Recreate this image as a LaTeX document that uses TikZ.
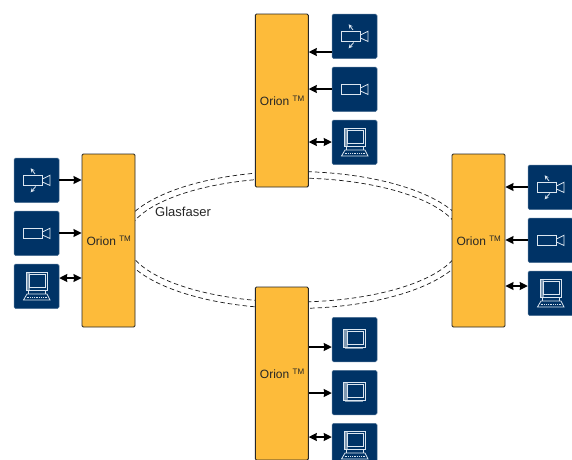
\documentclass[tikz,border=0pt]{standalone}
\usepackage{fontspec}
\setmainfont{Liberation Sans}
\usetikzlibrary{arrows.meta}
\definecolor{navy}{HTML}{003366}
\definecolor{amber}{HTML}{FDBB3A}
\definecolor{iconline}{HTML}{DCE6F0}
\definecolor{iconshade}{HTML}{7F99B2}
\tikzset{
  orion/.style={draw=black!85,line width=0.9pt,fill=amber,rounded corners=1.2pt,minimum width=53pt,minimum height=173pt,inner sep=0pt,font=\fontsize{12}{14}\selectfont,text=black!85},
  icon/.style={fill=navy,draw=navy!70!white,line width=0.5pt,rounded corners=1.5pt,minimum width=45pt,minimum height=44.5pt,inner sep=0pt},
  arr/.style={line width=1.2pt,-{Stealth[length=8pt,width=8pt,inset=0.5pt]}},
  darr/.style={line width=1.2pt,{Stealth[length=8pt,width=8pt,inset=0.5pt]}-{Stealth[length=8pt,width=8pt,inset=0.5pt]}},
  fibre/.style={draw=black!90,line width=0.7pt,dash pattern=on 4.5pt off 3pt},
  glyph/.style={draw=iconline,line width=0.8pt},
  cam/.pic={
    \draw[glyph] (9.5,17) rectangle (28.5,27);
    \draw[glyph] (28.5,21) -- (36,17.2) -- (36,27.5) -- (28.5,24);
  },
  pan/.pic={
    \draw[iconline,line width=0.8pt,-{Stealth[length=4pt,width=4pt]}] (21,16) -- (16.7,10.3);
    \draw[iconline,line width=0.8pt,-{Stealth[length=4pt,width=4pt]}] (21.7,28.5) -- (16.7,34.3);
  },
  mon/.pic={
    \fill[iconshade] (11,12) rectangle (16,30);
    \draw[glyph] (11,12) rectangle (33,30);
    \draw[glyph,fill=navy] (15,14.5) rectangle (31,27.5);
    \draw[iconshade,line width=1pt] (13,31) -- (31,31);
  },
  pc/.pic={
    \fill[iconshade] (12,8) rectangle (16,26);
    \draw[glyph] (12,8) rectangle (33.3,26);
    \draw[glyph,fill=navy] (15.5,10.5) rectangle (31,23.5);
    \draw[glyph] (14,26) -- (14,29.5) (31,26) -- (31,29.5);
    \draw[glyph] (13,30) -- (33,30) -- (36,36) -- (9.5,36) -- cycle;
    \draw[iconline,line width=1.4pt,dash pattern=on 1pt off 0.8pt] (12.5,33.2) -- (33,33.2);
  }
}
\begin{document}
\begin{tikzpicture}[x=1pt,y=-1pt]
\useasboundingbox (0,0) rectangle (572,459);
\clip (0,0) rectangle (572,459);
% fibre ring
\draw[fibre] (294,240) ellipse [x radius=175,y radius=68.5];
\draw[fibre] (294,240) ellipse [x radius=167.5,y radius=62];
\node[anchor=west,inner sep=0pt,font=\fontsize{13}{15}\selectfont,text=black!85] (glas) at (155,211.5) {Glasfaser};
% Orion units
\node[orion] (ol) at (108.5,240.5) {\hspace{1pt}Orion \textsuperscript{TM}};
\node[orion] (ot) at (281.8,100.5) {\hspace{1pt}Orion \textsuperscript{TM}};
\node[orion] (ob) at (281.8,373.5) {\hspace{1pt}Orion \textsuperscript{TM}};
\node[orion] (or) at (478.5,240.5) {\hspace{1pt}Orion \textsuperscript{TM}};
% left icons
\node[icon] (l1) at (36.5,180.3) {};
\node[icon] (l2) at (36.5,233.3) {};
\node[icon] (l3) at (36.5,286.3) {};
\pic at (14,158) {cam}; \pic at (14,158) {pan};
\pic at (14,211) {cam};
\pic at (14,264) {pc};
% top icons
\node[icon] (t1) at (354.5,36.3) {};
\node[icon] (t2) at (354.5,89.3) {};
\node[icon] (t3) at (354.5,142.3) {};
\pic at (332,14) {cam}; \pic at (332,14) {pan};
\pic at (332,67) {cam};
\pic at (332,120) {pc};
% bottom icons
\node[icon] (b1) at (354.5,339.5) {};
\node[icon] (b2) at (354.5,392.5) {};
\node[icon] (b3) at (354.5,445.5) {};
\pic at (332,317) {mon};
\pic at (332,370) {mon};
\pic at (332,423) {pc};
% right icons
\node[icon] (r1) at (550.5,187.3) {};
\node[icon] (r2) at (550.5,240.3) {};
\node[icon] (r3) at (550.5,293.3) {};
\pic at (528,165) {cam}; \pic at (528,165) {pan};
\pic at (528,218) {cam};
\pic at (528,271) {pc};
% connectors
\draw[arr] (l1.east |- 0,180) -- (ol.west |- 0,180);
\draw[arr] (l2.east |- 0,233) -- (ol.west |- 0,233);
\draw[darr] (l3.east |- 0,278) -- (ol.west |- 0,278);
\draw[arr] (t1.west |- 0,52) -- (ot.east |- 0,52);
\draw[arr] (t2.west |- 0,89) -- (ot.east |- 0,89);
\draw[darr] (t3.west |- 0,142) -- (ot.east |- 0,142);
\draw[arr] (ob.east |- 0,347) -- (b1.west |- 0,347);
\draw[arr] (ob.east |- 0,393) -- (b2.west |- 0,393);
\draw[darr] (ob.east |- 0,437) -- (b3.west |- 0,437);
\draw[arr] (r1.west |- 0,187) -- (or.east |- 0,187);
\draw[arr] (r2.west |- 0,240) -- (or.east |- 0,240);
\draw[darr] (r3.west |- 0,286) -- (or.east |- 0,286);
\end{tikzpicture}
\end{document}
